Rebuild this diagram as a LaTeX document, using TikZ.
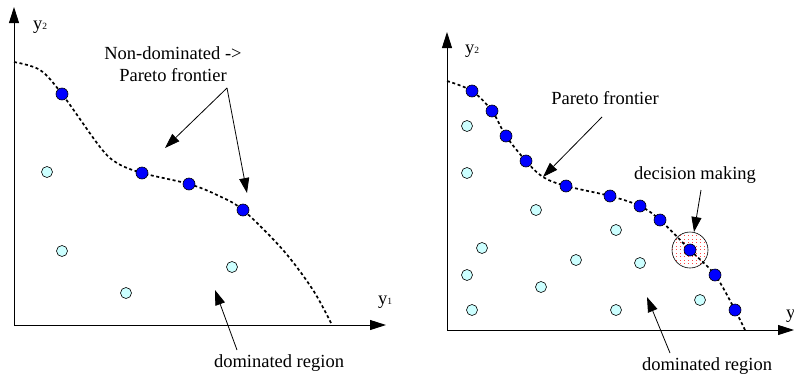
\documentclass[tikz,border=0pt]{standalone}
\usepackage{fontspec}
\setmainfont{Liberation Serif}
\usetikzlibrary{arrows.meta}
\definecolor{lightc}{RGB}{204,255,255}
\definecolor{hatchred}{RGB}{255,70,70}
\tikzset{
  axisline/.style={line width=0.9pt,-{Triangle[length=16pt,width=10pt]}},
  front/.style={line width=1.7pt,dash pattern=on 3pt off 2.6pt},
  pdot/.style={circle,draw=black,fill=blue,line width=0.6pt,minimum size=12pt,inner sep=0pt},
  ldot/.style={circle,draw=black,fill=lightc,line width=0.6pt,minimum size=11pt,inner sep=0pt},
  lbl/.style={font=\fontsize{18.5}{22}\selectfont,inner sep=0pt,anchor=base},
  axlbl/.style={font=\fontsize{18.5}{22}\selectfont,inner sep=0pt,anchor=base west},
  ann/.style={line width=0.8pt,-{Triangle[length=15pt,width=10pt]}},
}
\newcommand{\ysub}[1]{y{\fontsize{9.5}{9.5}\selectfont #1}}
\begin{document}
\begin{tikzpicture}[x=1pt,y=-1pt]
\useasboundingbox (0,0) rectangle (794,375);
% ---------- left panel ----------
\coordinate (o1) at (14,325);
\coordinate (t1) at (14,7);
\coordinate (r1) at (386,325);
\draw[axisline] (o1) -- (t1);
\draw[axisline] (o1) -- (r1);
\node[axlbl] (y2a) at (33,29) {\ysub{2}};
\node[axlbl] (y1a) at (378,304) {\ysub{1}};
\draw[front] plot[smooth,tension=0.55] coordinates {(14,62) (40,70) (62,94) (100,147) (117,163) (142,173) (189,184) (217,195) (243,210) (283,250) (313,290) (332,325)};
\node[pdot] (pa1) at (62,94) {};
\node[pdot] (pa2) at (142,173) {};
\node[pdot] (pa3) at (189,184) {};
\node[pdot] (pa4) at (243,210) {};
\node[ldot] (la1) at (47,172) {};
\node[ldot] (la2) at (62,251) {};
\node[ldot] (la3) at (126,293) {};
\node[ldot] (la4) at (232,267) {};
\node[lbl] (nd) at (173,59) {Non-dominated ->};
\node[lbl] (pf1) at (173,81) {Pareto frontier};
\coordinate (pfs) at (227,88);
\coordinate (pfe1) at (165,148);
\coordinate (pfe2) at (247,193);
\draw[ann] (pfs) -- (pfe1);
\draw[ann] (pfs) -- (pfe2);
\node[lbl] (dr1) at (279,367) {dominated region};
\coordinate (drs1) at (237,350);
\coordinate (dre1) at (215,290);
\draw[ann] (drs1) -- (dre1);
% ---------- right panel ----------
\coordinate (o2) at (447,330);
\coordinate (t2) at (447,32);
\coordinate (r2) at (794,330);
\draw[axisline] (o2) -- (t2);
\draw[axisline] (o2) -- (r2);
\node[axlbl] (y2b) at (465,53) {\ysub{2}};
\node[axlbl] (y1b) at (786,318) {\ysub{1}};
% decision making circle with red pattern
\begin{scope}
  \clip (690,250) circle (18pt);
  \foreach \yy in {235.5,239,...,266}
    \draw[hatchred,line width=0.5pt,dash pattern=on 1.2pt off 2.8pt] (668,\yy) -- (714,\yy);
\end{scope}
\node[circle,draw=black,line width=0.6pt,minimum size=36pt,inner sep=0pt] (dm) at (690,250) {};
\draw[front] plot[smooth,tension=0.55] coordinates {(447,81) (472,91) (492,111) (506,136) (526,161) (543,177) (566,186) (610,196) (640,206) (660,220) (690,250) (715,275) (735,310) (745,330)};
\node[pdot] (pb1) at (472,91) {};
\node[pdot] (pb2) at (492,111) {};
\node[pdot] (pb3) at (506,136) {};
\node[pdot] (pb4) at (526,161) {};
\node[pdot] (pb5) at (566,186) {};
\node[pdot] (pb6) at (610,196) {};
\node[pdot] (pb7) at (640,206) {};
\node[pdot] (pb8) at (660,220) {};
\node[pdot] (pb9) at (690,250) {};
\node[pdot] (pb10) at (715,275) {};
\node[pdot] (pb11) at (735,310) {};
\node[ldot] (lb1) at (467,126) {};
\node[ldot] (lb2) at (467,173) {};
\node[ldot] (lb3) at (536,210) {};
\node[ldot] (lb4) at (616,230) {};
\node[ldot] (lb5) at (482,248) {};
\node[ldot] (lb6) at (576,260) {};
\node[ldot] (lb7) at (640,263) {};
\node[ldot] (lb8) at (467,275) {};
\node[ldot] (lb9) at (541,287) {};
\node[ldot] (lb10) at (700,300) {};
\node[ldot] (lb11) at (472,310) {};
\node[ldot] (lb12) at (616,310) {};
\node[lbl] (pf2) at (605,104) {Pareto frontier};
\coordinate (pf2s) at (602,117);
\coordinate (pf2e) at (543,177);
\draw[ann] (pf2s) -- (pf2e);
\node[lbl] (dmt) at (695,179) {decision making};
\coordinate (dms) at (701,190);
\coordinate (dme) at (694,232);
\draw[ann] (dms) -- (dme);
\node[lbl] (dr2) at (707,370) {dominated region};
\coordinate (drs2) at (670,353);
\coordinate (dre2) at (647,297);
\draw[ann] (drs2) -- (dre2);
\end{tikzpicture}
\end{document}
